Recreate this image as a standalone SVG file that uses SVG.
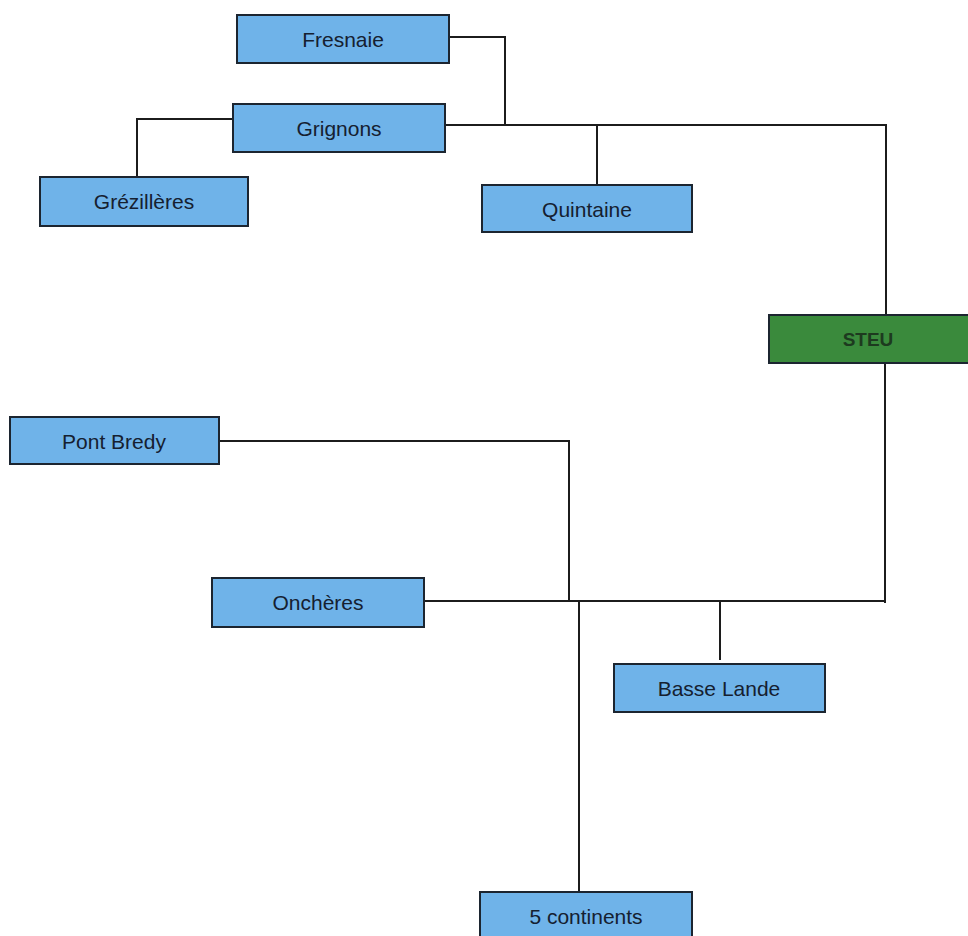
<svg xmlns="http://www.w3.org/2000/svg" width="968" height="936" viewBox="0 0 968 936">
<style>
.box{fill:#6fb3e9;stroke:#1c2530;stroke-width:2}
.steu{fill:#3a8a3c;stroke:#1c2530;stroke-width:2}
.lbl{font-family:"Liberation Sans",Arial,sans-serif;font-size:21px;fill:#152030;text-anchor:middle;dominant-baseline:central}
.lblg{font-family:"Liberation Sans",Arial,sans-serif;font-size:19px;font-weight:bold;fill:#1d3a1f;text-anchor:middle;dominant-baseline:central}
.wire{fill:none;stroke:#1c1c1c;stroke-width:2}
</style>
<rect width="968" height="936" fill="#ffffff"/>
<g id="connectors">
<path class="wire" d="M449,37 H505 V125"/>
<path class="wire" d="M445,125 H886 V315"/>
<path class="wire" d="M233,119 H137 V177"/>
<path class="wire" d="M597,125 V185"/>
<path class="wire" d="M885,363 V603"/>
<path class="wire" d="M219,441 H569 V602"/>
<path class="wire" d="M424,601 H884"/>
<path class="wire" d="M720,602 V660"/>
<path class="wire" d="M579,602 V892"/>
</g>
<g id="fresnaie"><rect class="box" x="237" y="15" width="212" height="48"/><text class="lbl" x="343" y="39">Fresnaie</text></g>
<g id="grignons"><rect class="box" x="233" y="104" width="212" height="48"/><text class="lbl" x="339" y="128">Grignons</text></g>
<g id="grezilleres"><rect class="box" x="40" y="177" width="208" height="49"/><text class="lbl" x="144" y="201">Grézillères</text></g>
<g id="quintaine"><rect class="box" x="482" y="185" width="210" height="47"/><text class="lbl" x="587" y="209">Quintaine</text></g>
<g id="steu"><rect class="steu" x="769" y="315" width="210" height="48"/><text class="lblg" x="868" y="339">STEU</text></g>
<g id="pontbredy"><rect class="box" x="10" y="417" width="209" height="47"/><text class="lbl" x="114" y="441">Pont Bredy</text></g>
<g id="oncheres"><rect class="box" x="212" y="578" width="212" height="49"/><text class="lbl" x="318" y="602">Onchères</text></g>
<g id="basselande"><rect class="box" x="614" y="664" width="211" height="48"/><text class="lbl" x="719" y="688">Basse Lande</text></g>
<g id="cinqcontinents"><rect class="box" x="480" y="892" width="212" height="50"/><text class="lbl" x="586" y="916">5 continents</text></g>
</svg>
